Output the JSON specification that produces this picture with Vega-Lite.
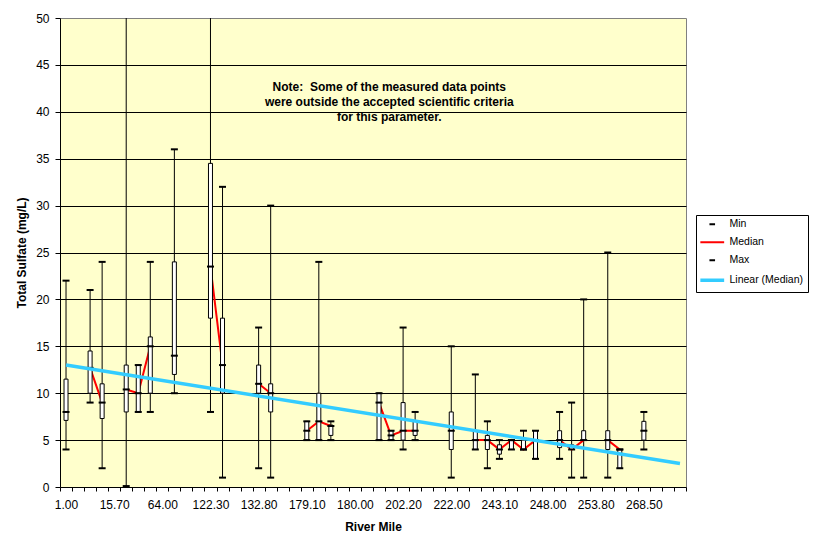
{
  "$schema": "https://vega.github.io/schema/vega-lite/v6.json",
  "width": 626,
  "height": 469,
  "autosize": {"type": "none"},
  "padding": {"left": 60, "top": 18, "right": 130, "bottom": 61},
  "background": "white",
  "config": {
    "font": "Liberation Sans",
    "view": {"fill": "#FFFFCC", "stroke": "#808080", "strokeWidth": 1},
    "axis": {
      "labelFont": "Liberation Sans",
      "labelFontSize": 12,
      "labelColor": "black",
      "titleFont": "Liberation Sans",
      "titleFontSize": 12,
      "titleFontWeight": "bold",
      "titleColor": "black",
      "domainColor": "black",
      "tickColor": "black"
    },
    "legend": {
      "title": null, "orient": "none", "legendX": 636, "legendY": 197, "direction": "vertical",
      "padding": 4, "strokeColor": "black", "fillColor": "white",
      "labelFont": "Liberation Sans", "labelFontSize": 10.5, "labelColor": "black",
      "symbolSize": 196, "rowPadding": 7, "labelOffset": 12, "symbolOffset": 7, "symbolStrokeWidth": 2
    }
  },
  "datasets": {
    "stats": [
      {"idx": 0, "Min": 4, "Q1": 7.1, "Median": 8, "Q3": 11.5, "Max": 22},
      {"idx": 1, "Min": null, "Q1": null, "Median": null, "Q3": null, "Max": null},
      {"idx": 2, "Min": 9, "Q1": 10, "Median": 12.7, "Q3": 14.5, "Max": 21},
      {"idx": 3, "Min": 2, "Q1": 7.3, "Median": 9, "Q3": 11, "Max": 24},
      {"idx": 4, "Min": null, "Q1": null, "Median": null, "Q3": null, "Max": null},
      {"idx": 5, "Min": 0.1, "Q1": 8, "Median": 10.4, "Q3": 13, "Max": 55},
      {"idx": 6, "Min": 8, "Q1": 8, "Median": 10, "Q3": 13, "Max": 13},
      {"idx": 7, "Min": 8, "Q1": 10, "Median": 15, "Q3": 16, "Max": 24},
      {"idx": 8, "Min": null, "Q1": null, "Median": null, "Q3": null, "Max": null},
      {"idx": 9, "Min": 10, "Q1": 12, "Median": 14, "Q3": 24, "Max": 36},
      {"idx": 10, "Min": null, "Q1": null, "Median": null, "Q3": null, "Max": null},
      {"idx": 11, "Min": null, "Q1": null, "Median": null, "Q3": null, "Max": null},
      {"idx": 12, "Min": 8, "Q1": 18, "Median": 23.5, "Q3": 34.5, "Max": 55},
      {"idx": 13, "Min": 1, "Q1": 10, "Median": 13, "Q3": 18, "Max": 32},
      {"idx": 14, "Min": null, "Q1": null, "Median": null, "Q3": null, "Max": null},
      {"idx": 15, "Min": null, "Q1": null, "Median": null, "Q3": null, "Max": null},
      {"idx": 16, "Min": 2, "Q1": 10, "Median": 11, "Q3": 13, "Max": 17},
      {"idx": 17, "Min": 1, "Q1": 8, "Median": 10, "Q3": 11, "Max": 30},
      {"idx": 18, "Min": null, "Q1": null, "Median": null, "Q3": null, "Max": null},
      {"idx": 19, "Min": null, "Q1": null, "Median": null, "Q3": null, "Max": null},
      {"idx": 20, "Min": 5, "Q1": 5, "Median": 6, "Q3": 7, "Max": 7},
      {"idx": 21, "Min": 5, "Q1": 5, "Median": 7, "Q3": 10, "Max": 24},
      {"idx": 22, "Min": 5, "Q1": 5.5, "Median": 6.5, "Q3": 6.6, "Max": 7},
      {"idx": 23, "Min": null, "Q1": null, "Median": null, "Q3": null, "Max": null},
      {"idx": 24, "Min": null, "Q1": null, "Median": null, "Q3": null, "Max": null},
      {"idx": 25, "Min": null, "Q1": null, "Median": null, "Q3": null, "Max": null},
      {"idx": 26, "Min": 5, "Q1": 5, "Median": 9, "Q3": 10, "Max": 10},
      {"idx": 27, "Min": 5, "Q1": 5, "Median": 5.5, "Q3": 6, "Max": 6},
      {"idx": 28, "Min": 4, "Q1": 5, "Median": 6, "Q3": 9, "Max": 17},
      {"idx": 29, "Min": 5, "Q1": 5.5, "Median": 6, "Q3": 7, "Max": 8},
      {"idx": 30, "Min": null, "Q1": null, "Median": null, "Q3": null, "Max": null},
      {"idx": 31, "Min": null, "Q1": null, "Median": null, "Q3": null, "Max": null},
      {"idx": 32, "Min": 1, "Q1": 4, "Median": 6, "Q3": 8, "Max": 15},
      {"idx": 33, "Min": null, "Q1": null, "Median": null, "Q3": null, "Max": null},
      {"idx": 34, "Min": 4, "Q1": 4, "Median": 5, "Q3": 6, "Max": 12},
      {"idx": 35, "Min": 2, "Q1": 4, "Median": 5, "Q3": 5.5, "Max": 7},
      {"idx": 36, "Min": 3, "Q1": 3.5, "Median": 4, "Q3": 4.5, "Max": 5},
      {"idx": 37, "Min": 4, "Q1": 4, "Median": 5, "Q3": 5, "Max": 5},
      {"idx": 38, "Min": 4, "Q1": 4, "Median": 4, "Q3": 5, "Max": 6},
      {"idx": 39, "Min": 3, "Q1": 3, "Median": 5, "Q3": 6, "Max": 6},
      {"idx": 40, "Min": null, "Q1": null, "Median": null, "Q3": null, "Max": null},
      {"idx": 41, "Min": 3, "Q1": 4.2, "Median": 5, "Q3": 6, "Max": 8},
      {"idx": 42, "Min": 1, "Q1": 4, "Median": 4, "Q3": 4.5, "Max": 9},
      {"idx": 43, "Min": 1, "Q1": 5, "Median": 5, "Q3": 6, "Max": 20},
      {"idx": 44, "Min": null, "Q1": null, "Median": null, "Q3": null, "Max": null},
      {"idx": 45, "Min": 1, "Q1": 4, "Median": 5, "Q3": 6, "Max": 25},
      {"idx": 46, "Min": 2, "Q1": 2, "Median": 4, "Q3": 4, "Max": 4},
      {"idx": 47, "Min": null, "Q1": null, "Median": null, "Q3": null, "Max": null},
      {"idx": 48, "Min": 4, "Q1": 5, "Median": 6, "Q3": 7, "Max": 8},
      {"idx": 49, "Min": null, "Q1": null, "Median": null, "Q3": null, "Max": null},
      {"idx": 50, "Min": null, "Q1": null, "Median": null, "Q3": null, "Max": null},
      {"idx": 51, "Min": null, "Q1": null, "Median": null, "Q3": null, "Max": null}
    ],
    "trend": [
      {"idx": 0, "value": 13.0},
      {"idx": 51, "value": 2.5}
    ],
    "note": [
      {"idx": 26.85, "y": 42.6, "text": "Note:\u00a0 Some of the measured data points\nwere outside the accepted scientific criteria\nfor this parameter."}
    ]
  },
  "encoding": {
    "x": {
      "field": "idx",
      "type": "quantitative",
      "scale": {"domain": [-0.5, 51.5], "nice": false, "zero": false, "padding": 0},
      "axis": {
        "title": "River Mile",
        "values": [-0.5,0.5,1.5,2.5,3.5,4.5,5.5,6.5,7.5,8.5,9.5,10.5,11.5,12.5,13.5,14.5,15.5,16.5,17.5,18.5,19.5,20.5,21.5,22.5,23.5,24.5,25.5,26.5,27.5,28.5,29.5,30.5,31.5,32.5,33.5,34.5,35.5,36.5,37.5,38.5,39.5,40.5,41.5,42.5,43.5,44.5,45.5,46.5,47.5,48.5,49.5,50.5,51.5],
        "labelExpr": "((datum.value + 0.5) % 4 == 0 && datum.value < 49) ? ['1.00','15.70','64.00','122.30','132.80','179.10','180.00','202.20','222.00','243.10','248.00','253.80','268.50'][(datum.value + 0.5) / 4] : ''",
        "labelOffset": 6,
        "labelFlush": false,
        "labelOverlap": false,
        "tickSize": 4,
        "labelPadding": 8,
        "titlePadding": 11,
        "grid": false
      }
    },
    "y": {
      "type": "quantitative",
      "scale": {"domain": [0, 50], "nice": false, "zero": true, "padding": 0},
      "axis": {
        "title": "Total Sulfate (mg/L)",
        "values": [0, 5, 10, 15, 20, 25, 30, 35, 40, 45, 50],
        "grid": true,
        "gridColor": {"condition": {"test": "datum.value === 50 || datum.value === 0", "value": "transparent"}, "value": "black"},
        "gridWidth": 1,
        "tickSize": 5,
        "labelPadding": 6,
        "titlePadding": 7
      }
    }
  },
  "layer": [
    {
      "data": {"name": "stats"},
      "mark": {"type": "rule", "color": "black", "strokeWidth": 1, "clip": true},
      "encoding": {
        "y": {"field": "Min", "type": "quantitative", "title": "Total Sulfate (mg/L)"},
        "y2": {"field": "Max"}
      }
    },
    {
      "data": {"name": "stats"},
      "mark": {"type": "line", "strokeWidth": 2, "invalid": "break-paths-show-domains", "clip": true},
      "encoding": {
        "y": {"field": "Median", "type": "quantitative", "title": "Total Sulfate (mg/L)"},
        "stroke": {
          "datum": "Median",
          "type": "nominal",
          "scale": {"domain": ["Min", "Median", "Max", "Linear (Median)"], "range": ["black", "#FF0000", "black", "#33CCFF"]},
          "legend": {
            "encode": {"symbols": {"update": {
              "shape": {"signal": "datum.value === 'Min' || datum.value === 'Max' ? 'M-0.4,0H0.4' : 'M-1.7,0H1.7'"},
              "strokeWidth": {"signal": "datum.value === 'Linear (Median)' ? 3.5 : 2"},
              "fill": {"value": "transparent"}
            }}}
          }
        }
      }
    },
    {
      "data": {"name": "stats"},
      "mark": {"type": "bar", "size": 4, "fill": "white", "stroke": "black", "strokeWidth": 1, "clip": true},
      "encoding": {
        "y": {"field": "Q1", "type": "quantitative", "title": "Total Sulfate (mg/L)"},
        "y2": {"field": "Q3"}
      }
    },
    {
      "data": {"name": "stats"},
      "transform": [{"fold": ["Min", "Max"], "as": ["series", "val"]}],
      "mark": {"type": "point", "shape": "stroke", "size": 49, "strokeWidth": 2, "filled": false, "opacity": 1, "clip": true},
      "encoding": {
        "y": {"field": "val", "type": "quantitative", "title": "Total Sulfate (mg/L)"},
        "stroke": {
          "field": "series",
          "type": "nominal",
          "scale": {"domain": ["Min", "Median", "Max", "Linear (Median)"], "range": ["black", "#FF0000", "black", "#33CCFF"]},
          "legend": {
            "encode": {"symbols": {"update": {
              "shape": {"signal": "datum.value === 'Min' || datum.value === 'Max' ? 'M-0.4,0H0.4' : 'M-1.7,0H1.7'"},
              "strokeWidth": {"signal": "datum.value === 'Linear (Median)' ? 3.5 : 2"},
              "fill": {"value": "transparent"}
            }}}
          }
        }
      }
    },
    {
      "data": {"name": "stats"},
      "mark": {"type": "point", "shape": "stroke", "size": 49, "strokeWidth": 2, "filled": false, "color": "black", "opacity": 1, "clip": true},
      "encoding": {
        "y": {"field": "Median", "type": "quantitative", "title": "Total Sulfate (mg/L)"}
      }
    },
    {
      "data": {"name": "trend"},
      "mark": {"type": "line", "strokeWidth": 3.5, "clip": true},
      "encoding": {
        "y": {"field": "value", "type": "quantitative", "title": "Total Sulfate (mg/L)"},
        "stroke": {
          "datum": "Linear (Median)",
          "type": "nominal",
          "scale": {"domain": ["Min", "Median", "Max", "Linear (Median)"], "range": ["black", "#FF0000", "black", "#33CCFF"]},
          "legend": {
            "encode": {"symbols": {"update": {
              "shape": {"signal": "datum.value === 'Min' || datum.value === 'Max' ? 'M-0.4,0H0.4' : 'M-1.7,0H1.7'"},
              "strokeWidth": {"signal": "datum.value === 'Linear (Median)' ? 3.5 : 2"},
              "fill": {"value": "transparent"}
            }}}
          }
        }
      }
    },
    {
      "data": {"name": "note"},
      "mark": {"type": "text", "font": "Liberation Sans", "fontSize": 12, "fontWeight": "bold", "color": "black", "align": "center", "baseline": "middle", "lineHeight": 15, "lineBreak": "\n"},
      "encoding": {
        "y": {"field": "y", "type": "quantitative", "title": "Total Sulfate (mg/L)"},
        "text": {"field": "text", "type": "nominal"}
      }
    }
  ]
}
